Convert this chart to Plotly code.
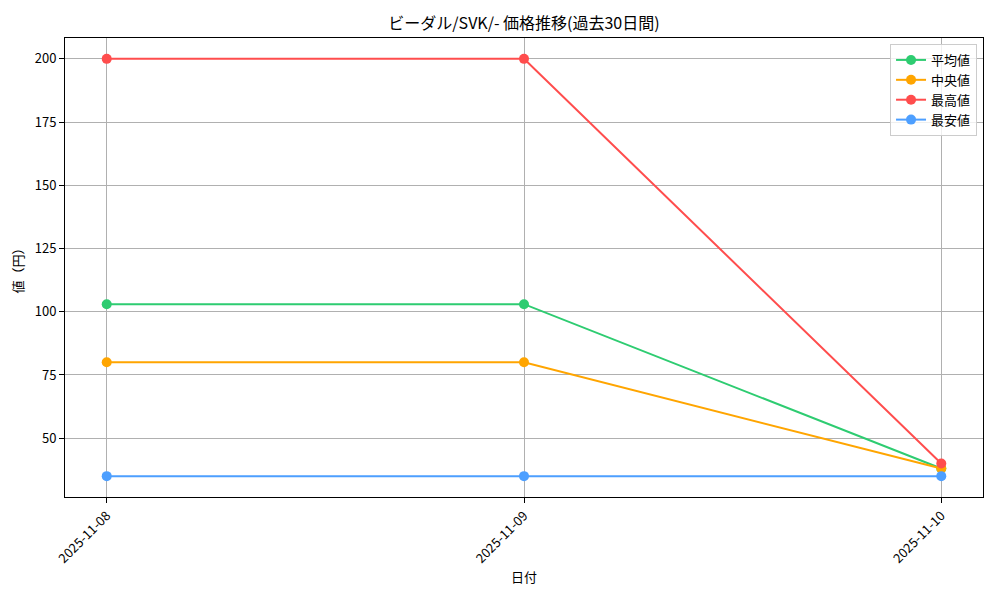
import plotly.graph_objects as go

# data
dates = ["2025-11-08", "2025-11-09", "2025-11-10"]
avg_vals = [103, 103, 38]
median_vals = [80, 80, 38]
max_vals = [200, 200, 40]
min_vals = [35, 35, 35]

series = [
    ("平均値", avg_vals, "#2ecc71"),
    ("中央値", median_vals, "#ffa500"),
    ("最高値", max_vals, "#ff4d4d"),
    ("最安値", min_vals, "#4d9fff"),
]

FONT = "Noto Sans CJK JP"

fig = go.Figure()
for name, vals, color in series:
    fig.add_trace(go.Scatter(
        x=dates, y=vals, name=name, mode="lines+markers",
        line=dict(color=color, width=2),
        marker=dict(color=color, size=10),
    ))

axis_common = dict(
    showline=True, linecolor="black", linewidth=1, mirror=True,
    showgrid=True, gridcolor="#b0b0b0", gridwidth=1,
    ticks="outside", ticklen=5, tickcolor="black",
    tickfont=dict(size=13, color="black"),
    zeroline=False, automargin=False,
)

# the page body adds an 8px offset, so margins are shifted by that much
fig.update_layout(
    width=1000, height=600,
    paper_bgcolor="white", plot_bgcolor="white",
    font=dict(family=FONT, color="black"),
    margin=dict(l=57, r=25, t=30, b=111),
    title=dict(text="ビーダル/SVK/- 価格推移(過去30日間)", x=0.5, xref="paper", xanchor="center",
               y=0.975, yanchor="middle", font=dict(size=16)),
    showlegend=True,
    legend=dict(x=0.9935, y=0.987, xanchor="right", yanchor="top",
                bgcolor="rgba(255,255,255,0.8)", bordercolor="#cccccc", borderwidth=1,
                font=dict(size=13)),
    xaxis=dict(
        type="date",
        range=["2025-11-07 21:36", "2025-11-10 02:24"],
        tickvals=dates, ticktext=dates, tickangle=-45,
        title=dict(text="日付", font=dict(size=13), standoff=4),
        **axis_common,
    ),
    yaxis=dict(
        range=[26.75, 208.25],
        tickvals=[50, 75, 100, 125, 150, 175, 200],
        title=dict(text="値（円）", font=dict(size=13), standoff=10),
        **axis_common,
    ),
)

fig.write_html("out.html")
